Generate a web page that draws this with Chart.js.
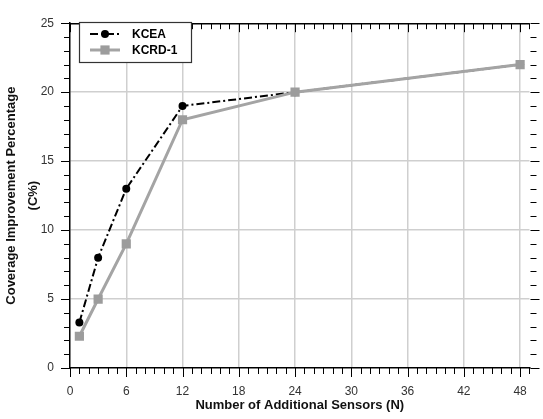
<!DOCTYPE html>
<html>
<head>
<meta charset="utf-8">
<script src="https://cdn.jsdelivr.net/npm/chart.js@4/dist/chart.umd.min.js"></script>
<style>
  html, body { margin: 0; padding: 0; background: #fff; }
  #wrap { width: 543px; height: 419px; }
</style>
</head>
<body>
<div id="wrap"><canvas id="coverageChart" width="543" height="419"></canvas></div>
<script>
// data
const sensors = [1, 3, 6, 12, 24, 48];
const kcea = [3.3, 8, 13, 19, 20, 22];
const kcrd = [2.3, 5, 9, 18, 20, 22];
const xTickValues = [0, 6, 12, 18, 24, 30, 36, 42, 48];
const yTickValues = [0, 5, 10, 15, 20, 25];

const GRID = "#cfcfcf";
const GRAY = "#a4a4a4";

Chart.defaults.font.family = "'Liberation Sans', Arial, sans-serif";

/* ============================= */
/* AXIS DECORATION + LEGEND */
/* ============================= */

const frame = {
  id: "frame",
  afterDraw(chart) {
    const ctx = chart.ctx;
    const { left, right, top, bottom } = chart.chartArea;
    const xs = chart.scales.x;
    const ys = chart.scales.y;

    ctx.save();
    ctx.strokeStyle = "#000";
    ctx.lineWidth = 1.5;
    ctx.beginPath();
    ctx.moveTo(left, top + 0.5);
    ctx.lineTo(right, top + 0.5);
    ctx.stroke();

    // minor + major tick marks
    ctx.lineWidth = 1;
    ctx.beginPath();
    for (let v = Math.ceil(xs.min); v <= xs.max; v++) {
      const px = Math.round(xs.getPixelForValue(v)) + 0.5;
      const len = v % 6 === 0 ? 9 : 6;
      ctx.moveTo(px, bottom);
      ctx.lineTo(px, bottom + len);
      ctx.moveTo(px, top);
      ctx.lineTo(px, top + len);
    }
    for (let v = ys.min; v <= ys.max; v++) {
      const py = Math.round(ys.getPixelForValue(v)) + 0.5;
      const len = v % 5 === 0 ? 9 : 6;
      ctx.moveTo(left - len, py);
      ctx.lineTo(left, py);
      ctx.moveTo(right + 1, py);
      ctx.lineTo(right + 1 + len, py);
    }
    ctx.stroke();

    // legend box
    const bx = 79, by = 22, bw = 112, bh = 40;
    ctx.fillStyle = "#fff";
    ctx.fillRect(bx, by, bw, bh);
    ctx.strokeStyle = "#333";
    ctx.lineWidth = 1.2;
    ctx.strokeRect(bx + 0.5, by + 0.5, bw, bh);

    const order = [0, 1];
    order.forEach((i, row) => {
      const ds = chart.data.datasets[i];
      const y = by + 12 + row * 16;
      ctx.strokeStyle = ds.borderColor;
      ctx.lineWidth = ds.borderWidth;
      ctx.setLineDash(ds.borderDash || []);
      ctx.beginPath();
      ctx.moveTo(90, y);
      ctx.lineTo(120, y);
      ctx.stroke();
      ctx.setLineDash([]);
      ctx.fillStyle = ds.pointBackgroundColor;
      if (ds.pointStyle === "rect") {
        const s = ds.pointRadius * Math.SQRT1_2;
        ctx.fillRect(105 - s, y - s, 2 * s, 2 * s);
      } else {
        ctx.beginPath();
        ctx.arc(105, y, ds.pointRadius, 0, Math.PI * 2);
        ctx.fill();
      }
      ctx.fillStyle = "#000";
      ctx.font = "bold 12px 'Liberation Sans', Arial, sans-serif";
      ctx.textBaseline = "middle";
      ctx.textAlign = "left";
      ctx.fillText(ds.label, 132, y + 1);
    });
    ctx.restore();
  },
};

/* ============================= */
/* CHART */
/* ============================= */

new Chart(document.getElementById("coverageChart"), {
  type: "line",
  data: {
    datasets: [
      {
        label: "KCEA",
        data: sensors.map((x, i) => ({ x: x, y: kcea[i] })),
        borderColor: "#000",
        backgroundColor: "#000",
        borderWidth: 2,
        borderDash: [8, 3, 2, 3],
        pointStyle: "circle",
        pointRadius: 4,
        pointBackgroundColor: "#000",
        pointBorderWidth: 0,
        tension: 0,
        order: 1,
      },
      {
        label: "KCRD-1",
        data: sensors.map((x, i) => ({ x: x, y: kcrd[i] })),
        borderColor: GRAY,
        backgroundColor: GRAY,
        borderWidth: 3,
        pointStyle: "rect",
        pointRadius: 6.5,
        pointBackgroundColor: "#9c9c9c",
        pointBorderWidth: 0,
        tension: 0,
        order: 0,
      },
    ],
  },
  options: {
    responsive: false,
    animation: false,
    layout: { padding: { top: 11, right: 10, left: 0, bottom: 0 } },
    plugins: {
      legend: { display: false },
      tooltip: { enabled: false },
    },
    scales: {
      x: {
        type: "linear",
        min: 0,
        max: 49,
        afterBuildTicks: (scale) => {
          scale.ticks = xTickValues.map((v) => ({ value: v }));
        },
        afterFit: (scale) => {
          scale.height = 51;
        },
        grid: {
          color: (c) => (c.tick && c.tick.value === 0 ? "rgba(0,0,0,0)" : GRID),
          lineWidth: 1.5,
          drawTicks: false,
        },
        border: { display: true, color: "#000", width: 1.5 },
        ticks: {
          color: "#333",
          font: { size: 12 },
          padding: 16,
          maxRotation: 0,
        },
        title: {
          display: true,
          text: "Number of Additional Sensors (N)",
          color: "#111",
          font: { size: 13, weight: "bold" },
          padding: { top: 0, bottom: 6 },
        },
      },
      y: {
        min: 0,
        max: 25,
        afterBuildTicks: (scale) => {
          scale.ticks = yTickValues.map((v) => ({ value: v }));
        },
        afterFit: (scale) => {
          scale.width = 70;
        },
        grid: {
          color: (c) =>
            c.tick && (c.tick.value === 0 || c.tick.value === 25) ? "rgba(0,0,0,0)" : GRID,
          lineWidth: 1.5,
          drawTicks: false,
        },
        border: { display: true, color: "#000", width: 1.5 },
        ticks: {
          color: "#333",
          font: { size: 12 },
          padding: 16,
        },
        title: {
          display: true,
          text: ["Coverage Improvement Percentage", "(C%)"],
          color: "#111",
          font: { size: 13, weight: "bold", lineHeight: 1.7 },
          padding: { top: 0, bottom: 0 },
        },
      },
    },
  },
  plugins: [frame],
});
</script>
</body>
</html>
